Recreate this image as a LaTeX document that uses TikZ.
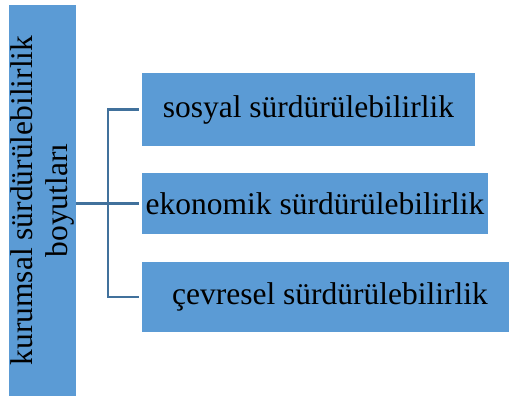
\documentclass[tikz,border=0pt]{standalone}
\usepackage{fontspec}
\setmainfont{Liberation Serif}
\usepackage{xcolor}
\definecolor{boxblue}{HTML}{5B9BD5}
\definecolor{lineblue}{HTML}{41719C}

\begin{document}
\begin{tikzpicture}[x=1pt, y=-1pt,
	dimbox/.style={fill=boxblue, inner sep=0pt, font=\fontsize{31.5}{35}\selectfont},
	conn/.style={draw=lineblue, line width=2.5pt}]
	\useasboundingbox (0,0) rectangle (510,398);
	% Draw boxes
	\node[dimbox, rotate=90, minimum width=391pt, minimum height=67pt, align=center] (dim) at (42.5,200.5) {kurumsal sürdürülebilirlik\\boyutları};
	\node[dimbox, minimum width=333pt, minimum height=73pt] (sosyal) at (308.5,109.5) {sosyal sürdürülebilirlik};
	\node[dimbox, minimum width=346pt, minimum height=61pt] (ekonomik) at (315,203.5) {ekonomik sürdürülebilirlik};
	\node[dimbox, minimum width=367pt, minimum height=70pt] (cevresel) at (325.5,297) {\hspace{9pt}çevresel sürdürülebilirlik};
	% Draw connectors
	\coordinate (bus) at (108,202);
	\draw[conn] (dim.south |- ekonomik.west) -- ([xshift=-3pt]ekonomik.west);
	\draw[conn] ([xshift=-3pt]sosyal.west) -| (bus) |- ([xshift=-3pt]cevresel.west);
\end{tikzpicture}
\end{document}
